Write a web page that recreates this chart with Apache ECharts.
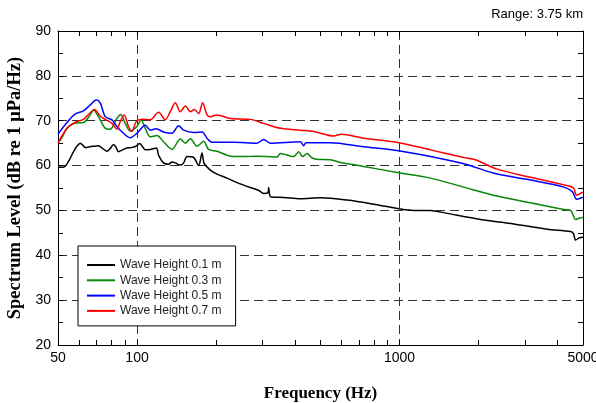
<!DOCTYPE html>
<html>
<head>
<meta charset="utf-8">
<script src="https://cdn.jsdelivr.net/npm/echarts@6/dist/echarts.min.js"></script>
<style>
  html, body { margin: 0; padding: 0; background: #fff; overflow: hidden; }
  #chart { width: 596px; height: 403px; }
</style>
</head>
<body>
<div id="chart"></div>
<script>
// Ambient noise spectra at 3.75 km range, one curve per wave height.
// Each series: frequency (Hz) and spectrum level (dB re 1 uPa/Hz).
const wave01Freq = [50, 52, 53.3, 55.5, 57.3, 59, 60.8, 62.5, 63.5, 66, 68.3, 71.3, 74, 76.8, 79, 81.4, 83, 85, 88, 91.5, 95, 99, 102.3, 105, 107.5, 112.3, 118.4, 121, 126.2, 131.9, 135.9, 139.9, 146.2, 150.5, 155, 164.3, 171.7, 176.9, 178.5, 180.5, 190.2, 201.7, 220.2, 240.5, 270.2, 290, 303.7, 315, 317.3, 320, 324.1, 362, 419.1, 499.6, 631.6, 797.5, 993, 1130, 1312, 1500, 2035, 2726, 3655, 4484, 4600, 4686, 4850, 5000];
const wave01Level = [59.7, 59.6, 59.9, 61.5, 63.1, 64.3, 65.0, 64.4, 64.0, 64.2, 64.3, 64.4, 63.8, 63.2, 63.8, 64.7, 64.2, 63.1, 63.5, 63.9, 64.0, 64.3, 64.9, 64.2, 63.5, 63.6, 63.9, 62.2, 60.6, 60.3, 60.8, 60.6, 60.1, 60.6, 62.0, 61.8, 60.0, 62.8, 61.5, 60.4, 59.0, 58.1, 57.2, 56.2, 55.1, 54.5, 53.8, 53.9, 55.1, 53.5, 53.0, 52.9, 52.6, 52.8, 52.3, 51.4, 50.4, 50.0, 50.0, 49.4, 48.0, 47.0, 45.8, 45.3, 44.8, 43.4, 43.9, 44.0];

const wave03Freq = [50, 51.5, 54.1, 58.2, 62.5, 66.3, 68.3, 71.3, 75.7, 79.1, 83.8, 86.8, 90.2, 94.2, 99.9, 103.5, 107.5, 112.3, 119.1, 126.2, 135.9, 146.2, 152.8, 159.6, 169.3, 179.4, 187.4, 201.7, 226.7, 254.8, 286.6, 341.6, 351.6, 395.3, 412.8, 427, 444.5, 462, 483, 545, 596, 730, 993, 1312, 1757, 2356, 3157, 4228, 4484, 4686, 4800, 4969, 5000];
const wave03Level = [65.1, 66.0, 68.3, 69.5, 69.6, 71.3, 72.4, 70.9, 68.3, 68.1, 70.5, 71.4, 69.4, 67.7, 68.7, 70.2, 68.3, 66.4, 66.7, 65.3, 63.6, 65.9, 65.0, 66.0, 64.3, 65.4, 63.6, 63.2, 62.1, 62.0, 62.1, 61.9, 62.7, 62.0, 63.1, 62.0, 62.7, 61.8, 61.4, 61.3, 60.7, 59.8, 58.4, 57.2, 55.2, 53.2, 51.7, 50.2, 50.0, 48.0, 48.2, 48.4, 48.5];

const wave05Freq = [50, 54.1, 58.2, 62.5, 66.3, 69.9, 72.4, 75.7, 80.3, 83.8, 88.8, 94.2, 99.9, 107.5, 112.3, 118.4, 126.2, 135.9, 144, 150.5, 164.3, 176.9, 184.8, 193.1, 233.4, 286.6, 303.7, 322.1, 419.1, 431.4, 440, 545.5, 730.5, 993, 1312, 1757, 2356, 3157, 4228, 4551, 4727, 4969, 5000];
const wave05Level = [67.0, 69.6, 71.5, 72.2, 73.5, 74.6, 74.0, 70.9, 70.2, 68.7, 67.2, 66.2, 67.2, 69.0, 67.9, 68.2, 67.5, 67.2, 68.9, 67.9, 67.4, 67.5, 66.1, 65.2, 65.2, 65.0, 65.8, 65.0, 65.3, 64.4, 65.1, 65.1, 64.2, 63.3, 62.0, 60.4, 58.1, 56.8, 55.2, 54.2, 52.5, 52.9, 53.0];

const wave07Freq = [50, 54.1, 58.2, 62.5, 65.9, 68.9, 72.4, 75.7, 80.3, 83.8, 86.3, 89.4, 92.8, 95.6, 99.3, 104.4, 112.3, 120.8, 128.1, 133.9, 139.9, 146.2, 152.8, 159.6, 165.3, 171.7, 177.8, 184.8, 190.2, 201.7, 226.7, 270.2, 303.7, 351.6, 419.1, 471, 561.6, 600, 730.5, 993, 1312, 1757, 1948, 2356, 3157, 4228, 4600, 4727, 4969, 5000];
const wave07Level = [65.0, 68.3, 69.7, 70.3, 71.6, 72.5, 71.0, 70.3, 69.4, 68.1, 69.8, 71.3, 68.7, 67.6, 69.8, 70.3, 70.2, 71.9, 70.2, 72.0, 74.0, 72.0, 73.3, 72.0, 72.5, 71.6, 74.0, 71.3, 70.9, 71.3, 70.5, 70.3, 69.4, 68.3, 67.9, 67.6, 66.6, 67.0, 66.1, 65.1, 63.5, 61.8, 61.3, 59.2, 57.4, 55.7, 55.0, 53.4, 54.0, 54.1];

const seriesNames = ['Wave Height 0.1 m', 'Wave Height 0.3 m', 'Wave Height 0.5 m', 'Wave Height 0.7 m'];
const seriesColors = ['#000000', '#088708', '#0000ff', '#ff0000'];

// Frequency axis range and tick positions (Hz)
const freqMin = 50;
const freqMax = 5000;
const freqLabels = [50, 100, 1000, 5000];
const freqGridLines = [100, 1000];
const freqMinorTicks = [60, 70, 80, 90, 100, 200, 300, 400, 500, 600, 700, 800, 900, 1000, 2000, 3000, 4000];

const pairs = (fs, ls) => fs.map((f, i) => [f, ls[i]]);
const seriesData = [
  pairs(wave01Freq, wave01Level),
  pairs(wave03Freq, wave03Level),
  pairs(wave05Freq, wave05Level),
  pairs(wave07Freq, wave07Level)
];

const lg = Math.log10;
const labelFont = { fontFamily: 'Liberation Sans, Arial, sans-serif', fontSize: 14, color: '#000' };
const titleFont = { fontFamily: 'Liberation Serif, Times New Roman, serif', fontWeight: 'bold', fontSize: 17, color: '#000' };
const blackLine = { lineStyle: { color: '#000', width: 1 } };

// Tick-only companion axes use the exponent of the frequency so that
// arbitrary decade subdivisions can be placed.
const decadeAxis = (extra) => Object.assign({
  type: 'value',
  gridIndex: 0,
  min: lg(freqMin),
  max: lg(freqMax),
  axisLine: { show: false },
  axisTick: { show: false },
  axisLabel: { show: false },
  splitLine: { show: false }
}, extra);

const chart = echarts.init(document.getElementById('chart'), null, { renderer: 'canvas' });

chart.setOption({
  animation: false,
  backgroundColor: '#fff',
  grid: { left: 58, right: 13, top: 31, bottom: 58, containLabel: false, outerBoundsMode: 'none' },
  title: {
    text: 'Range: 3.75 km',
    right: 8,
    top: 3,
    textStyle: { fontFamily: 'Liberation Sans, Arial, sans-serif', fontSize: 13, fontWeight: 'normal', color: '#000' }
  },
  legend: {
    data: seriesNames,
    orient: 'vertical',
    left: 78,
    top: 246,
    padding: [13, 14, 9, 8],
    itemWidth: 28,
    itemHeight: 12,
    itemGap: 3.3,
    borderColor: '#000',
    borderWidth: 1,
    backgroundColor: '#fff',
    itemStyle: { opacity: 0 },
    textStyle: { fontFamily: 'Liberation Sans, Arial, sans-serif', fontSize: 12, color: '#222' }
  },
  xAxis: [
    // data axis (logarithmic frequency)
    {
      type: 'log',
      logBase: 10,
      min: freqMin,
      max: freqMax,
      show: false
    },
    // bottom axis: line, labels, inward minor ticks
    decadeAxis({
      position: 'bottom',
      axisLine: { show: true, onZero: false, ...blackLine },
      axisTick: { show: true, inside: true, length: 5, customValues: freqMinorTicks.map(lg), ...blackLine },
      axisLabel: {
        show: true,
        customValues: freqLabels.map(lg),
        formatter: (v) => String(Math.round(Math.pow(10, v))),
        margin: 6,
        hideOverlap: false,
        ...labelFont
      },
      name: 'Frequency (Hz)',
      nameLocation: 'middle',
      nameGap: 40,
      nameTextStyle: titleFont
    }),
    // top axis mirror
    decadeAxis({
      position: 'top',
      axisLine: { show: true, onZero: false, ...blackLine },
      axisTick: { show: true, inside: true, length: 5, customValues: freqMinorTicks.map(lg), ...blackLine }
    }),
    // dashed vertical grid at the decades
    decadeAxis({
      position: 'bottom',
      axisTick: { show: false, customValues: freqGridLines.map(lg) },
      splitLine: { show: true, lineStyle: { color: '#333', width: 1, type: [9, 5] } }
    })
  ],
  yAxis: [
    {
      type: 'value',
      min: 20,
      max: 90,
      interval: 10,
      position: 'left',
      axisLine: { show: true, onZero: false, ...blackLine },
      axisTick: { show: true, inside: true, length: 5, ...blackLine },
      minorTick: { show: true, splitNumber: 2, length: 5, lineStyle: { color: '#000', width: 1 } },
      axisLabel: { margin: 7, ...labelFont },
      splitLine: { show: true, showMinLine: false, showMaxLine: false, lineStyle: { color: '#333', width: 1, type: [9, 5] } },
      name: 'Spectrum Level (dB re 1 \u03bcPa/Hz)',
      nameLocation: 'middle',
      nameGap: 32,
      nameTextStyle: Object.assign({}, titleFont, { fontSize: 18.5 })
    },
    {
      type: 'value',
      min: 20,
      max: 90,
      interval: 10,
      position: 'right',
      axisLine: { show: true, onZero: false, ...blackLine },
      axisTick: { show: true, inside: true, length: 5, ...blackLine },
      minorTick: { show: true, splitNumber: 2, length: 5, lineStyle: { color: '#000', width: 1 } },
      axisLabel: { show: false },
      splitLine: { show: false }
    }
  ],
  series: seriesData.map((d, i) => ({
    name: seriesNames[i],
    type: 'line',
    xAxisIndex: 0,
    yAxisIndex: 0,
    data: d,
    symbol: 'none',
    smooth: 0.3,
    lineStyle: { color: seriesColors[i], width: 1.5 },
    itemStyle: { color: seriesColors[i] },
    z: 3 + i
  }))
});
</script>
</body>
</html>
